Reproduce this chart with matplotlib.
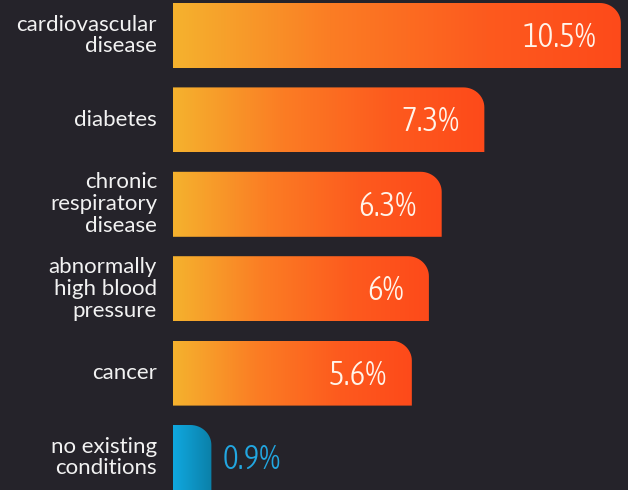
import numpy as np
import matplotlib
matplotlib.use("Agg")
import matplotlib.pyplot as plt
import matplotlib.font_manager as fm
from matplotlib.path import Path
from matplotlib.patches import PathPatch
from matplotlib.colors import LinearSegmentedColormap

conditions = [
    "cardiovascular\ndisease",
    "diabetes",
    "chronic\nrespiratory\ndisease",
    "abnormally\nhigh blood\npressure",
    "cancer",
    "no existing\nconditions",
]
rates = [10.5, 7.3, 6.3, 6.0, 5.6, 0.9]
rate_labels = ["10.5%", "7.3%", "6.3%", "6%", "5.6%", "0.9%"]

BG = "#25232a"
fire = LinearSegmentedColormap.from_list(
    "fire", [(0, "#f5b22e"), (0.35, "#fb7d24"), (0.7, "#fd5a1e"), (1, "#fe4a1a")])
ice = LinearSegmentedColormap.from_list("ice", ["#10a8e0", "#0b80a8"])


def narrow_font():
    """Pick a condensed sans face for the percentages, if one is installed."""
    stretch_rank = {"extra-condensed": 0, "condensed": 1, "semi-condensed": 2}
    best = None
    for f in fm.fontManager.ttflist:
        name = f.name
        if "Mono" in name or "Serif" in name or "CJK" in name:
            continue
        narrow = f.stretch in stretch_rank or "Narrow" in name or "Condensed" in name
        if not narrow or f.style != "normal":
            continue
        w = f.weight if isinstance(f.weight, int) else 400
        if w < 300 or w > 400:
            continue
        key = (stretch_rank.get(f.stretch, 1), abs(w - 300))
        if best is None or key < best[0]:
            best = (key, f.fname)
    if best:
        return fm.FontProperties(fname=best[1])
    return fm.FontProperties(family="Roboto")


W, H = 628, 490
PX_X = 42.65          # pixels per percentage point
X0 = 173              # pixel column of the zero line
PITCH = 84.4          # pixels between bar centres
Y0 = 35.5             # pixel row of the first bar centre

fig = plt.figure(figsize=(W / 100, H / 100), dpi=100, facecolor=BG)
ax = fig.add_axes([0, 0, 1, 1])
ax.set_facecolor(BG)
ax.set_xlim(-X0 / PX_X, (W - X0) / PX_X)
ax.set_ylim((H - Y0) / PITCH, -Y0 / PITCH)
ax.axis("off")

bar_h = 65 / PITCH
rx, ry = 21 / PX_X, 20 / PITCH


def rounded_bar(x1, yc, h):
    """Bar from 0 to x1 with only the top-right corner rounded."""
    top, bot = yc - h / 2, yc + h / 2
    r_x = min(rx, x1)
    t = np.linspace(np.pi / 2, 0, 16)
    arc = [(x1 - r_x + r_x * np.cos(a), top + ry - ry * np.sin(a)) for a in t]
    verts = [(0, bot), (0, top)] + arc + [(x1, bot), (0, bot)]
    codes = [Path.MOVETO] + [Path.LINETO] * (len(verts) - 2) + [Path.CLOSEPOLY]
    return Path(verts, codes)


num_font = narrow_font()
num_font.set_size(24)
num_dy = 2 / PITCH

grad = np.linspace(0, 1, 256).reshape(1, -1)
for i, (v, lab, txt) in enumerate(zip(rates, conditions, rate_labels)):
    last = i == len(rates) - 1
    patch = PathPatch(rounded_bar(v, i, bar_h), facecolor="none", edgecolor="none")
    ax.add_patch(patch)
    im = ax.imshow(grad, cmap=ice if last else fire, aspect="auto",
                   extent=[0, v, i + bar_h / 2, i - bar_h / 2], interpolation="bicubic")
    im.set_clip_path(patch)

    ax.text(-16 / PX_X, i, lab, ha="right", va="center", ma="right",
            color="#f2f2f2", fontsize=16, family=["Lato", "DejaVu Sans"],
            linespacing=1.12)
    if last:
        ax.text(v + 11 / PX_X, i + num_dy, txt, ha="left", va="center",
                color="#22a6e0", fontproperties=num_font)
    else:
        ax.text(v - 25 / PX_X, i + num_dy, txt, ha="right", va="center",
                color="#fff4ea", fontproperties=num_font)

fig.savefig("out.png", dpi=100, facecolor=BG)
